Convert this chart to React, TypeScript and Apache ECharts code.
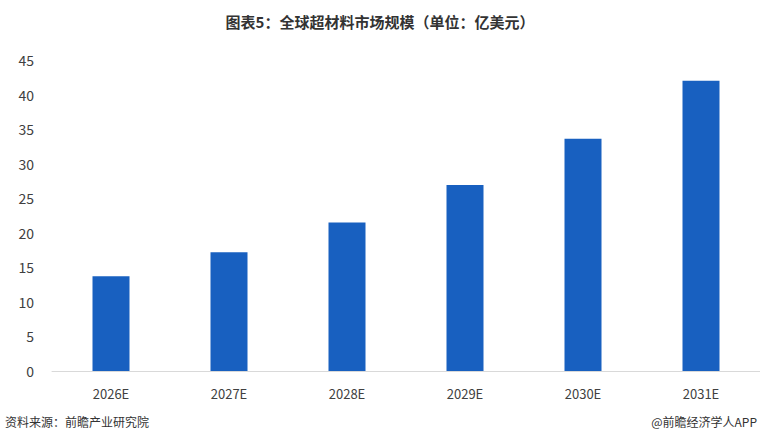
import React, { useEffect, useRef } from "react";
import * as echarts from "echarts";

const categories = ["2026E", "2027E", "2028E", "2029E", "2030E", "2031E"];
const values = [13.7, 17.2, 21.5, 26.9, 33.6, 42.0];
const yTicks = [0, 5, 10, 15, 20, 25, 30, 35, 40, 45];

const titleText = "图表5：全球超材料市场规模（单位：亿美元）";
const sourceText = "资料来源：前瞻产业研究院";
const brandText = "@前瞻经济学人APP";

const FONT = "'Noto Sans CJK SC', 'Noto Sans', sans-serif";

export default function App() {
  const ref = useRef<HTMLDivElement>(null);
  useEffect(() => {
    document.body.style.margin = "0";
    const chart = echarts.init(ref.current!, null, { renderer: "svg" });
    chart.setOption({
      animation: false,
      backgroundColor: "#ffffff",
      textStyle: { fontFamily: FONT },
      title: {
        text: titleText,
        left: "center",
        top: 9,
        textStyle: { fontSize: 15, fontWeight: "bold", color: "#333333", fontFamily: FONT },
      },
      grid: { left: 52, right: 0, top: 60, bottom: 72, containLabel: false },
      xAxis: {
        type: "category",
        data: categories,
        axisLine: { show: true, lineStyle: { color: "#d9d9d9", width: 1 } },
        axisTick: { show: false },
        axisLabel: { color: "#404040", fontSize: 13, margin: 16, fontFamily: FONT },
      },
      yAxis: {
        type: "value",
        min: yTicks[0],
        max: yTicks[yTicks.length - 1],
        interval: yTicks[1] - yTicks[0],
        axisLine: { show: false },
        axisTick: { show: false },
        splitLine: { show: false },
        axisLabel: { color: "#404040", fontSize: 14, margin: 18, fontFamily: FONT },
      },
      series: [
        {
          type: "bar",
          data: values,
          barWidth: 37,
          itemStyle: { color: "#1860c0" },
        },
      ],
      graphic: [
        {
          type: "text",
          left: 5,
          top: 415,
          style: { text: sourceText, fontSize: 12, fill: "#333333", fontFamily: FONT },
        },
        {
          type: "text",
          right: 3,
          top: 415,
          style: { text: brandText, fontSize: 12, fill: "#333333", fontFamily: FONT },
        },
      ],
    });
    return () => chart.dispose();
  }, []);
  return (
    <div
      ref={ref}
      style={{ position: "absolute", left: 0, top: 0, width: 760, height: 443 }}
    />
  );
}
